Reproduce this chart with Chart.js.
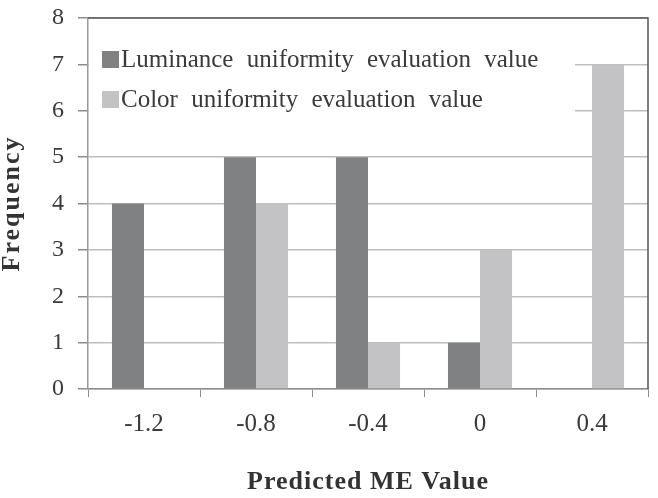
<!DOCTYPE html>
<html>
<head>
<meta charset="utf-8">
<script src="https://cdn.jsdelivr.net/npm/chart.js@4.4.1/dist/chart.umd.min.js"></script>
<style>
html,body{margin:0;padding:0;background:#fff;}
#wrap{width:658px;height:498px;}
</style>
</head>
<body>
<div id="wrap"><canvas id="c" width="658" height="498"></canvas></div>
<script>
const categories = ['-1.2', '-0.8', '-0.4', '0', '0.4'];
const luminanceValues = [4, 5, 5, 1, 0];
const colorValues = [0, 4, 1, 3, 7];
const seriesNames = ['Luminance uniformity evaluation value', 'Color uniformity evaluation value'];
const yTicks = [0, 1, 2, 3, 4, 5, 6, 7, 8];
const xTitle = 'Predicted ME Value';
const yTitle = 'Frequency';

const SERIF = '"Liberation Serif", "Times New Roman", serif';

const insideLegend = {
  id: 'insideLegend',
  afterDraw(chart) {
    const ctx = chart.ctx;
    const a = chart.chartArea;
    ctx.save();
    ctx.fillStyle = '#ffffff';
    ctx.fillRect(a.left + 1, a.top + 1, 486, 112);
    ctx.font = '25px ' + SERIF;
    ctx.textBaseline = 'middle';
    ctx.textAlign = 'left';
    const rows = [a.top + 41, a.top + 81];
    chart.data.datasets.forEach((ds, i) => {
      const y = rows[i];
      ctx.fillStyle = ds.backgroundColor;
      ctx.fillRect(a.left + 14, y - 8, 17, 17);
      ctx.fillStyle = '#3a3a3a';
      if ('wordSpacing' in ctx) ctx.wordSpacing = '7px';
      ctx.fillText(ds.label, a.left + 33, y + 1);
    });
    ctx.strokeStyle = '#555555';
    ctx.lineWidth = 1.5;
    ctx.beginPath();
    ctx.moveTo(a.left, a.top);
    ctx.lineTo(a.right, a.top);
    ctx.lineTo(a.right, a.bottom);
    ctx.stroke();
    ctx.restore();
  }
};

function spacedTitle(spacing) {
  return function (s) {
    if (s._spacedPatched) return;
    s._spacedPatched = true;
    const orig = s.drawTitle.bind(s);
    s.drawTitle = function () {
      const ctx = s.ctx;
      ctx.save();
      if ('letterSpacing' in ctx) ctx.letterSpacing = spacing;
      orig();
      ctx.restore();
    };
  };
}

new Chart(document.getElementById('c'), {
  type: 'bar',
  data: {
    labels: categories,
    datasets: [
      { label: seriesNames[0], data: luminanceValues, backgroundColor: '#808183' },
      { label: seriesNames[1], data: colorValues, backgroundColor: '#c3c3c5' }
    ]
  },
  options: {
    responsive: false,
    animation: false,
    layout: { padding: { left: 0, right: 10, top: 18, bottom: 0 } },
    plugins: { legend: { display: false }, tooltip: { enabled: false } },
    datasets: { bar: { categoryPercentage: 0.572, barPercentage: 1.0 } },
    scales: {
      x: {
        afterFit(s) { s.height = 109; s.paddingLeft = 0; s.paddingRight = 0; },
        afterUpdate: spacedTitle('1px'),
        grid: { drawOnChartArea: false, drawTicks: true, tickLength: 8, color: '#8c8c8c', offset: true },
        border: { color: '#8c8c8c', width: 1.5 },
        ticks: { color: '#3a3a3a', font: { family: SERIF, size: 25 }, padding: 12 },
        title: { display: true, text: xTitle, color: '#333333', font: { family: SERIF, size: 26, weight: 'bold', lineHeight: 1.2 }, padding: { top: 0, bottom: 0 } }
      },
      y: {
        min: 0, max: 8,
        afterFit(s) { s.width = 88; s.paddingTop = 0; s.paddingBottom = 0; },
        afterUpdate: spacedTitle('2px'),
        afterBuildTicks(s) { s.ticks = yTicks.map(v => ({ value: v })); },
        grid: { color: '#bdbdbd', lineWidth: 1.5, tickLength: 10, tickColor: '#8c8c8c' },
        border: { color: '#9a9a9a', width: 1.5 },
        ticks: { color: '#3a3a3a', font: { family: SERIF, size: 24 }, padding: 14 },
        title: { display: true, text: yTitle, color: '#333333', font: { family: SERIF, size: 26, weight: 'bold', lineHeight: 1.0 }, padding: { top: -1, bottom: 0 } }
      }
    }
  },
  plugins: [insideLegend]
});
</script>
</body>
</html>
